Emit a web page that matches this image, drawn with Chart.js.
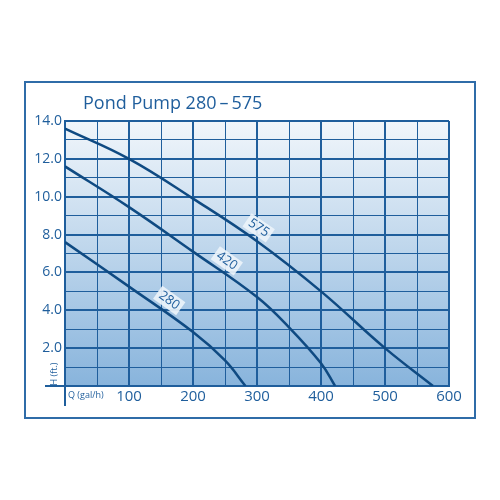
<!DOCTYPE html>
<html>
<head>
<meta charset="utf-8">
<script src="https://cdn.jsdelivr.net/npm/chart.js@4"></script>
<style>
  body { margin: 0; background: #fff; }
  canvas { display: block; }
</style>
</head>
<body>
<canvas id="pumpChart" width="500" height="500"></canvas>
<script>
// pump curves (flow in gal/h, head in ft)
var flow575 = [0, 100, 200, 300, 400, 500, 575];
var head575 = [13.6, 12.0, 9.9, 7.65, 5.0, 2.0, 0];
var flow420 = [0, 100, 200, 300, 350, 400, 422];
var head420 = [11.6, 9.45, 7.1, 4.7, 3.1, 1.2, 0];
var flow280 = [0, 100, 200, 250, 282];
var head280 = [7.6, 5.25, 2.85, 1.35, 0];
var curveNames = ["575", "420", "280"];
var labelFlow = [292, 242, 152];

var blue = "#1f5e9c";
var dark = "#0f4a82";
var font = "'Open Sans', sans-serif";

function toPoints(xs, ys) {
  return xs.map(function (x, i) { return { x: x, y: ys[i] }; });
}

function headAt(xs, ys, x) {
  for (var i = 1; i < xs.length; i++) {
    if (x <= xs[i]) {
      var t = (x - xs[i - 1]) / (xs[i] - xs[i - 1]);
      return ys[i - 1] + t * (ys[i] - ys[i - 1]);
    }
  }
  return ys[ys.length - 1];
}

var curves = [[flow575, head575], [flow420, head420], [flow280, head280]];

// gradient behind the grid
var bgPlugin = {
  id: "bg",
  beforeDraw: function (chart) {
    var a = chart.chartArea, ctx = chart.ctx;
    var g = ctx.createLinearGradient(0, a.top, 0, a.bottom);
    g.addColorStop(0, "#f1f6fb");
    g.addColorStop(1, "#88b4dc");
    ctx.save();
    ctx.fillStyle = g;
    ctx.fillRect(a.left, a.top, a.right - a.left, a.bottom - a.top);
    ctx.restore();
  }
};

// frame, title, axis names and curve labels
var decoPlugin = {
  id: "deco",
  afterDatasetsDraw: function (chart) {
    var ctx = chart.ctx, xs = chart.scales.x, ys = chart.scales.y;
    ctx.save();
    curves.forEach(function (c, i) {
      var fx = labelFlow[i];
      var px = xs.getPixelForValue(fx), py = ys.getPixelForValue(headAt(c[0], c[1], fx));
      var px2 = xs.getPixelForValue(fx + 10), py2 = ys.getPixelForValue(headAt(c[0], c[1], fx + 10));
      var ang = Math.atan2(py2 - py, px2 - px);
      var off = 12;
      ctx.save();
      ctx.translate(px + Math.sin(ang) * off, py - Math.cos(ang) * off);
      ctx.rotate(ang);
      ctx.font = "13px " + font;
      var w = ctx.measureText(curveNames[i]).width;
      ctx.fillStyle = "rgba(236,243,250,0.92)";
      ctx.fillRect(-w / 2 - 3, -8, w + 6, 16);
      ctx.fillStyle = blue;
      ctx.textAlign = "center";
      ctx.textBaseline = "middle";
      ctx.fillText(curveNames[i], 0, 0);
      ctx.restore();
    });
    ctx.restore();
  },
  afterDraw: function (chart) {
    var ctx = chart.ctx, a = chart.chartArea;
    ctx.save();
    ctx.strokeStyle = "#2f6ca8";
    ctx.lineWidth = 2;
    ctx.strokeRect(25, 82, 450, 336);
    ctx.fillStyle = blue;
    ctx.font = "18px " + font;
    ctx.textBaseline = "alphabetic";
    ctx.fillText("Pond Pump 280\u2009\u2013\u2009575", 83, 109);
    // axis stubs past the origin
    ctx.strokeStyle = blue;
    ctx.beginPath();
    ctx.moveTo(a.left, a.bottom);
    ctx.lineTo(a.left, a.bottom + 20);
    ctx.moveTo(a.left - 20, a.bottom);
    ctx.lineTo(a.left, a.bottom);
    ctx.stroke();
    ctx.font = "9px " + font;
    ctx.textBaseline = "middle";
    ctx.fillText("Q (gal/h)", a.left + 3, a.bottom + 9);
    ctx.translate(a.left - 11, a.bottom - 12);
    ctx.rotate(-Math.PI / 2);
    ctx.textAlign = "center";
    ctx.fillText("H (ft.)", 0, 0);
    ctx.restore();
  }
};

var datasets = curves.map(function (c, i) {
  return {
    label: curveNames[i],
    data: toPoints(c[0], c[1]),
    borderColor: dark,
    borderWidth: 2.5,
    pointRadius: 0,
    fill: false,
    tension: 0.4
  };
});

new Chart(document.getElementById("pumpChart"), {
  type: "line",
  data: { datasets: datasets },
  options: {
    responsive: false,
    animation: false,
    layout: { padding: { left: 0, right: 51, top: 121, bottom: 84 } },
    plugins: { legend: { display: false }, tooltip: { enabled: false } },
    scales: {
      x: {
        type: "linear",
        min: 0,
        max: 600,
        afterFit: function (s) { s.height = 30; },
        ticks: {
          stepSize: 50,
          autoSkip: false,
          maxRotation: 0,
          padding: 2,
          color: blue,
          font: { family: font, size: 15 },
          callback: function (v) { return (v % 100 === 0 && v > 0) ? v : ""; }
        },
        grid: {
          color: blue,
          drawTicks: false,
          lineWidth: function (c) { return c.tick && c.tick.value % 100 === 0 ? 2 : 1; }
        },
        border: { display: true, color: blue, width: 2 }
      },
      y: {
        min: 0,
        max: 14,
        afterFit: function (s) { s.width = 65; },
        ticks: {
          stepSize: 1,
          autoSkip: false,
          padding: 3,
          color: blue,
          font: { family: font, size: 14 },
          callback: function (v) { return (v % 2 === 0 && v > 0) ? v.toFixed(1) : ""; }
        },
        grid: {
          color: blue,
          drawTicks: false,
          lineWidth: function (c) { return c.tick && c.tick.value % 2 === 0 ? 2 : 1; }
        },
        border: { display: true, color: blue, width: 2 }
      }
    }
  },
  plugins: [bgPlugin, decoPlugin]
});
</script>
</body>
</html>
